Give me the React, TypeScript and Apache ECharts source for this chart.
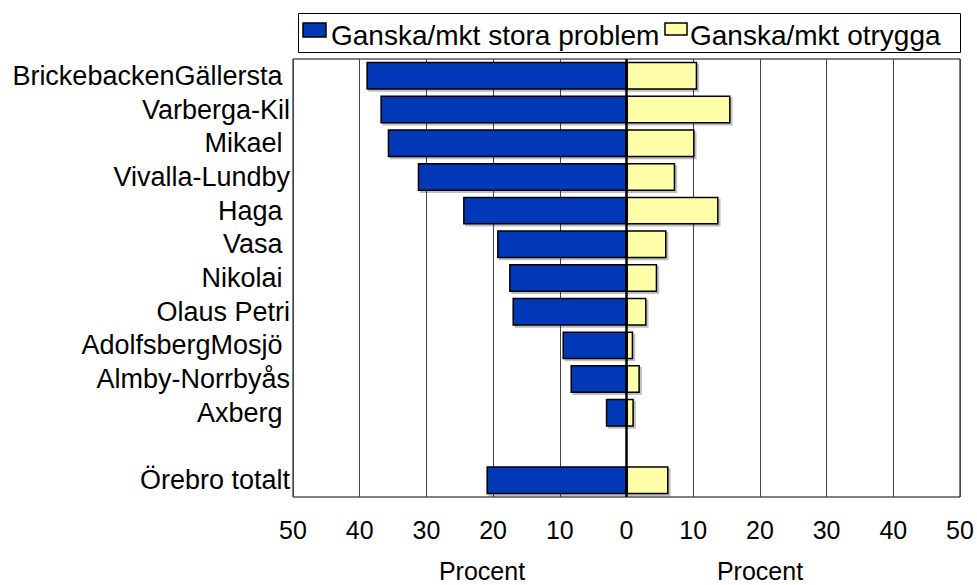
import React, { useEffect, useRef } from "react";
import * as echarts from "echarts";

const categories = [
  "BrickebackenGällersta ",
  "Varberga-Kil",
  "Mikael ",
  "Vivalla-Lundby",
  "Haga ",
  "Vasa ",
  "Nikolai ",
  "Olaus Petri",
  "AdolfsbergMosjö ",
  "Almby-Norrbyås",
  "Axberg ",
  "",
  "Örebro totalt",
];
const problemValues = [39.0, 36.9, 35.8, 31.3, 24.5, 19.4, 17.6, 17.1, 9.6, 8.4, 3.1, null, 21.0];
const otryggaValues = [10.6, 15.6, 10.2, 7.3, 13.8, 6.0, 4.6, 3.0, 1.0, 2.0, 1.1, null, 6.3];
const seriesNames = ["Ganska/mkt stora problem", "Ganska/mkt otrygga"];
const seriesColors = ["#0038b8", "#ffffaa"];
const axisTitles = ["Procent", "Procent"];
const axisMin = -50;
const axisMax = 50;
const axisStep = 10;

const FONT = "'Liberation Sans', Arial, sans-serif";

export default function App() {
  const ref = useRef<HTMLDivElement>(null);
  useEffect(() => {
    if (!ref.current) return;
    const chart = echarts.init(ref.current, null, { renderer: "svg" });
    const barStyle = (color: string) => ({
      color,
      borderColor: "#000",
      borderWidth: 1.5,
      shadowColor: "rgba(0,0,0,0.25)",
      shadowOffsetX: 2,
      shadowOffsetY: 2,
      shadowBlur: 0,
    });
    const legendText = (text: string, x: number) => ({
      type: "text",
      x,
      y: 35,
      silent: true,
      style: {
        text,
        fontFamily: FONT,
        fontSize: 28,
        fill: "#000",
        textAlign: "left",
        textVerticalAlign: "middle",
      },
    });
    const legendSwatch = (color: string, x: number, w: number, h: number) => ({
      type: "rect",
      x,
      y: 23,
      silent: true,
      shape: { width: w, height: h },
      style: { fill: color, stroke: "#000", lineWidth: 1.5 },
    });
    chart.setOption({
      animation: false,
      backgroundColor: "#fff",
      grid: {
        left: 293,
        right: 17,
        top: 59,
        bottom: 88,
        show: true,
        borderColor: "#000",
        borderWidth: 1,
        containLabel: false,
      },
      xAxis: {
        type: "value",
        min: axisMin,
        max: axisMax,
        interval: axisStep,
        axisLine: { show: false },
        axisTick: { show: false },
        splitLine: { show: true, lineStyle: { color: "#444", width: 1 } },
        axisLabel: {
          fontFamily: FONT,
          fontSize: 25,
          color: "#000",
          margin: 20,
          formatter: (v: number) => String(Math.abs(v)),
        },
      },
      yAxis: {
        type: "category",
        inverse: true,
        data: categories,
        axisLine: { show: false },
        axisTick: { show: false },
        splitLine: { show: false },
        axisLabel: {
          interval: 0,
          fontFamily: FONT,
          fontSize: 27,
          color: "#000",
          margin: 3,
          padding: [6, 0, 0, 0],
        },
      },
      graphic: [
        {
          type: "rect",
          left: 296,
          top: 11,
          silent: true,
          shape: { width: 662, height: 39 },
          style: { fill: "none", stroke: "#000", lineWidth: 1 },
        },
        legendSwatch(seriesColors[0], 303, 23, 14),
        legendText(seriesNames[0], 331),
        legendSwatch(seriesColors[1], 665, 22, 12),
        legendText(seriesNames[1], 690),
        {
          type: "text",
          x: 482,
          y: 571,
          style: {
            text: axisTitles[0],
            fontFamily: FONT,
            fontSize: 25,
            fill: "#000",
            textAlign: "center",
            textVerticalAlign: "middle",
          },
        },
        {
          type: "text",
          x: 760,
          y: 571,
          style: {
            text: axisTitles[1],
            fontFamily: FONT,
            fontSize: 25,
            fill: "#000",
            textAlign: "center",
            textVerticalAlign: "middle",
          },
        },
      ],
      series: [
        {
          name: seriesNames[0],
          type: "bar",
          data: problemValues.map((v) => (v == null ? null : -v)),
          barGap: "-100%",
          barCategoryGap: "17%",
          itemStyle: barStyle(seriesColors[0]),
        },
        {
          name: seriesNames[1],
          type: "bar",
          data: otryggaValues,
          barGap: "-100%",
          barCategoryGap: "17%",
          itemStyle: barStyle(seriesColors[1]),
          markLine: {
            silent: true,
            symbol: "none",
            label: { show: false },
            lineStyle: { color: "#000", width: 2.5, type: "solid" },
            data: [{ xAxis: 0 }],
          },
        },
      ],
    });
    return () => chart.dispose();
  }, []);
  return (
    <div
      ref={ref}
      style={{ position: "fixed", left: 0, top: 0, width: 977, height: 585 }}
    />
  );
}
